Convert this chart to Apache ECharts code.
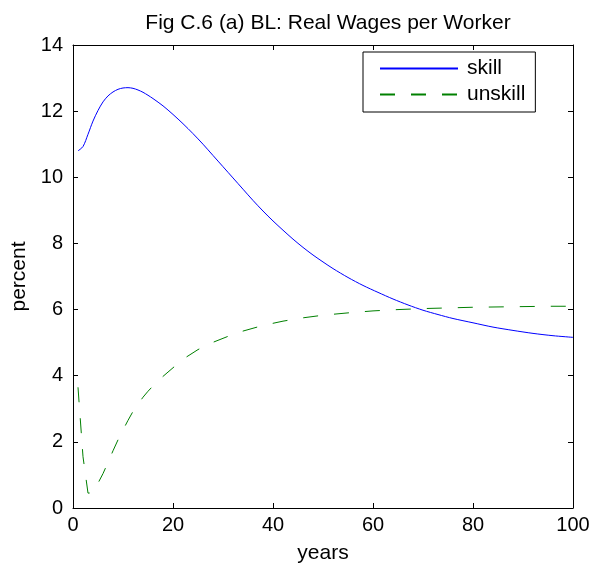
<!DOCTYPE html>
<html>
<head>
<meta charset="utf-8">
<script src="https://cdn.jsdelivr.net/npm/echarts@6/dist/echarts.min.js"></script>
<style>html,body{margin:0;padding:0;background:#fff;}#c{width:594px;height:573px;}</style>
</head>
<body>
<div id="c"></div>
<script>
var titleText = 'Fig C.6 (a) BL: Real Wages per Worker';
var xTicks = [0, 20, 40, 60, 80, 100];
var yTicks = [0, 2, 4, 6, 8, 10, 12, 14];
var skillYears = [1,2,3,4,5,6,7,8,9,10,11,12,13,14,15,16,18,20,22,24,26,28,30,32,34,36,38,40,42,44,46,48,50,52,55,58,61,64,67,70,73,76,80,84,88,92,96,100];
var skillValues = [10.8,10.93,11.3,11.7,12.02,12.28,12.46,12.58,12.66,12.7,12.71,12.69,12.64,12.57,12.48,12.38,12.16,11.9,11.62,11.32,11.0,10.66,10.32,9.98,9.64,9.3,8.98,8.68,8.4,8.13,7.88,7.65,7.44,7.24,6.97,6.73,6.52,6.32,6.14,5.98,5.85,5.73,5.6,5.47,5.37,5.28,5.21,5.16];
var unskillYears = [1,2,3,4,5,6,7,8,9,10,11,12,13,14,15,16,17,18,20,22,25,28,31,34,38,42,46,50,55,60,65,70,75,80,85,90,95,100];
var unskillValues = [3.65,1.55,0.45,0.46,0.75,1.04,1.38,1.73,2.06,2.36,2.65,2.92,3.14,3.35,3.53,3.69,3.85,3.98,4.24,4.5,4.79,5.01,5.19,5.35,5.52,5.65,5.75,5.83,5.9,5.96,6.0,6.03,6.05,6.07,6.08,6.09,6.1,6.1];

function pairs(xs, ys){ return xs.map(function(x,i){ return [x, ys[i]]; }); }

var font = 'Liberation Sans, Arial, sans-serif';
var axisCommon = {
  axisLine: {show: true, onZero: false, lineStyle: {color: '#000', width: 1}},
  axisTick: {show: true, inside: true, length: 5, lineStyle: {color: '#000'}},
  splitLine: {show: false}
};
var chart = echarts.init(document.getElementById('c'));
chart.setOption({
  animation: false,
  backgroundColor: '#fff',
  title: {text: titleText, left: 323, top: 8, textAlign: 'center',
    textStyle: {fontFamily: font, fontSize: 21, fontWeight: 'normal', color: '#000'}},
  grid: {left: 73, right: 21, top: 45, bottom: 65},
  legend: {
    orient: 'vertical', left: 363, top: 52,
    data: [{name: 'skill'}, {name: 'unskill'}],
    itemWidth: 78, itemHeight: 14, itemGap: 5,
    padding: [6, 10, 7, 16],
    itemStyle: {opacity: 0},
    borderColor: '#000', borderWidth: 1, backgroundColor: '#fff',
    textStyle: {fontFamily: font, fontSize: 21, lineHeight: 21, color: '#000', padding: [0, 0, 0, 4]}
  },
  xAxis: [
    Object.assign({type: 'value', min: 0, max: 100, interval: 20, position: 'bottom',
      name: 'years', nameLocation: 'middle', nameGap: 35,
      nameTextStyle: {fontFamily: font, fontSize: 21, color: '#000'},
      axisLabel: {fontFamily: font, fontSize: 20, color: '#000', margin: 7}}, axisCommon),
    Object.assign({type: 'value', min: 0, max: 100, interval: 20, position: 'top',
      axisLabel: {show: false}}, axisCommon)
  ],
  yAxis: [
    Object.assign({type: 'value', min: 0, max: 14, interval: 2, position: 'left',
      name: 'percent', nameLocation: 'middle', nameGap: 40,
      nameTextStyle: {fontFamily: font, fontSize: 21, color: '#000'},
      axisLabel: {fontFamily: font, fontSize: 20, color: '#000', margin: 10}}, axisCommon),
    Object.assign({type: 'value', min: 0, max: 14, interval: 2, position: 'right',
      axisLabel: {show: false}}, axisCommon)
  ],
  series: [
    {name: 'skill', type: 'line', data: pairs(skillYears, skillValues), smooth: 0.3,
      showSymbol: false, symbol: 'none', color: '#0000ff',
      lineStyle: {color: '#0000ff', width: 1}},
    {name: 'unskill', type: 'line', data: pairs(unskillYears, unskillValues), smooth: false,
      showSymbol: false, symbol: 'none', color: '#008000',
      lineStyle: {color: '#008000', width: 1, type: [15, 16]}}
  ]
});
</script>
</body>
</html>
